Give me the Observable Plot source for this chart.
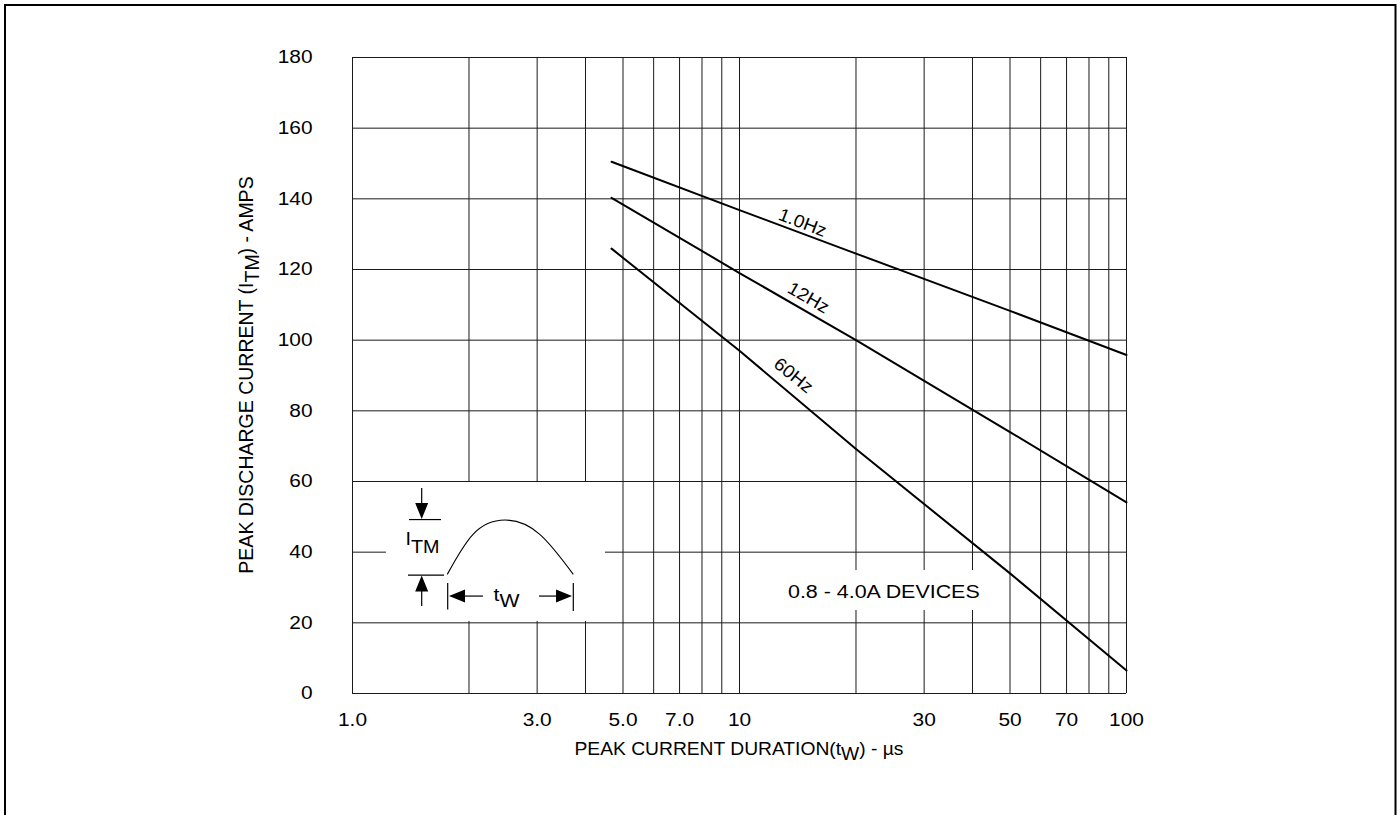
<!DOCTYPE html>
<html>
<head>
<meta charset="utf-8">
<script src="https://cdn.jsdelivr.net/npm/d3@7"></script>
<script src="https://cdn.jsdelivr.net/npm/@observablehq/plot@0.6"></script>
<style>
  html, body { margin: 0; padding: 0; background: #fff; }
  #chart { width: 1398px; height: 815px; overflow: hidden; }
</style>
</head>
<body>
<div id="chart"></div>
<script>
// ---- data ----
const duration = [4.67, 10, 20, 50, 100];                 // µs
const current1Hz = [150.5, 136.8, 124.5, 108.3, 95.8];    // A
const current12Hz = [140.3, 119.0, 100.0, 74.0, 54.1];
const current60Hz = [125.9, 97.0, 69.2, 34.0, 6.5];
const seriesNames = ["1.0Hz", "12Hz", "60Hz"];
const seriesValues = [current1Hz, current12Hz, current60Hz];

const xGrid = [1, 2, 3, 4, 5, 6, 7, 8, 9, 10, 20, 30, 40, 50, 60, 70, 80, 90, 100];
const yTicks = [0, 20, 40, 60, 80, 100, 120, 140, 160, 180];
const xTickValues = [1, 3, 5, 7, 10, 30, 50, 70, 100];
const xTickLabels = ["1.0", "3.0", "5.0", "7.0", "10", "30", "50", "70", "100"];

// label placement (data coordinates) and rotation for the curve labels
const labelX = [14.55, 15.07, 13.79];
const labelY = [133.2, 112.0, 90.0];
const labelAngle = [21, 30, 39];

const deviceText = "0.8 - 4.0A DEVICES";

// ---- build tables ----
const rows = seriesNames.flatMap((name, k) =>
  duration.map((d, i) => ({series: name, duration: d, current: seriesValues[k][i]})));
const labels = seriesNames.map((name, k) => ({text: name, x: labelX[k], y: labelY[k], r: labelAngle[k]}));

const FONT = "'Liberation Sans', Arial, Helvetica, sans-serif";
const GRID = "#1a1a1a";
const FS = 18;

const plot = Plot.plot({
  width: 1398,
  height: 815,
  marginLeft: 352,
  marginRight: 272,
  marginTop: 57,
  marginBottom: 122,
  style: {fontFamily: FONT, fontSize: FS + "px", color: "#000", background: "#fff", overflow: "hidden"},
  x: {type: "log", domain: [1, 100], axis: null},
  y: {domain: [0, 180]},
  marks: [
    Plot.ruleX(xGrid, {stroke: GRID, strokeWidth: 1}),
    Plot.ruleY(yTicks, {stroke: GRID, strokeWidth: 1}),
    // white boxes behind the inset sketch and the device note
    Plot.rect([{}], {x1: () => 1.006, x2: () => 4.505, y1: () => 20.4, y2: () => 59.7, fill: "#fff"}),
    Plot.rect([{}], {x1: () => 12.2, x2: () => 46.5, y1: () => 23.5, y2: () => 34.8, fill: "#fff"}),
    Plot.ruleX([1], {stroke: GRID, strokeWidth: 1}),
    Plot.ruleY([40], {x1: () => 1, x2: () => 1.224, stroke: GRID, strokeWidth: 1}),
    Plot.line(rows, {x: "duration", y: "current", z: "series", stroke: "#000", strokeWidth: 2}),
    Plot.text(labels, {x: "x", y: "y", text: "text", rotate: "r", fontSize: FS, fill: "#000"}),
    Plot.text([deviceText], {x: () => 23.6, y: () => 28.6, text: d => d, fontSize: FS, fill: "#000"}),
    // x tick labels
    Plot.text(xTickValues, {x: d => d, text: (d, i) => xTickLabels[i], frameAnchor: "bottom", dy: 32,
                            fontSize: FS, fill: "#000"}),
    Plot.axisY({ticks: yTicks, tickSize: 0, tickPadding: 40, label: null, fontSize: FS})
  ]
});

document.getElementById("chart").appendChild(plot);

const svg = d3.select(plot);
const sx = plot.scale("x").apply;
const sy = plot.scale("y").apply;

function stretch(el, f) {
  const L = el.getComputedTextLength();
  el.setAttribute("textLength", (L * f).toFixed(2));
  el.setAttribute("lengthAdjust", "spacingAndGlyphs");
}

// horizontal stretch of the lettering, as in the reference
plot.querySelectorAll('g[aria-label="y-axis tick label"] text').forEach(t => stretch(t, 1.16));
plot.querySelectorAll('g[aria-label="text"] text').forEach(t => {
  const s = t.textContent;
  if (s === deviceText) stretch(t, 1.19);
  else if (seriesNames.includes(s)) stretch(t, 1.06);
  else if (xTickLabels.includes(s)) stretch(t, 1.16);
});

// text with subscripts, horizontally stretched through a transform
function subText(x, y, f, size, anchor, parts) {
  const grp = svg.append("g").attr("transform", `translate(${x},${y}) scale(${f},1)`);
  const t = grp.append("text").attr("x", 0).attr("y", 0)
    .attr("text-anchor", anchor).attr("font-family", FONT)
    .attr("font-size", size).attr("fill", "#000");
  parts.forEach(([s, dy]) => t.append("tspan").attr("dy", dy).text(s));
  return grp;
}

// ---- axis titles ----
subText((sx(1) + sx(100)) / 2, 755, 1.07, FS, "middle",
  [["PEAK CURRENT DURATION(t", 0], ["W", 5], [") - µs", -5]]);

const yTitle = svg.append("text")
  .attr("transform", `translate(253,${(sy(0) + sy(180)) / 2}) rotate(-90)`)
  .attr("text-anchor", "middle")
  .attr("font-family", FONT)
  .attr("font-size", 19.5)
  .attr("fill", "#000");
yTitle.append("tspan").text("PEAK DISCHARGE CURRENT (I");
yTitle.append("tspan").attr("dy", 6).text("TM");
yTitle.append("tspan").attr("dy", -6).text(") - AMPS");

// ---- inset pulse sketch (anchored at x = 1, y = 40) ----
const ax = sx(1), ay = sy(40);
const g = svg.append("g").attr("transform", `translate(${ax},${ay})`)
  .attr("stroke", "#000").attr("stroke-width", 1.2).attr("fill", "none");
const P = (x, y) => [x - 352, y - 551.6];
function seg(x1, y1, x2, y2) {
  const a = P(x1, y1), b = P(x2, y2);
  g.append("line").attr("x1", a[0]).attr("y1", a[1]).attr("x2", b[0]).attr("y2", b[1]);
}
function tri(pts) {
  g.append("path").attr("d", "M" + pts.map(p => P(p[0], p[1]).join(",")).join("L") + "Z")
    .attr("fill", "#000").attr("stroke", "none");
}
// I_TM marker
seg(421.7, 488, 421.7, 505);
tri([[421.7, 519], [415.2, 503], [428.2, 503]]);
seg(409, 519.5, 441, 519.5);
seg(408, 575, 444, 575);
tri([[421.7, 575.5], [415.2, 591.5], [428.2, 591.5]]);
seg(421.7, 590, 421.7, 606);
// pulse
{
  const p0 = P(447.3, 574.3), c1 = P(466, 540), c2 = P(478, 520), m = P(505, 520),
        c3 = P(532, 520), c4 = P(548, 540), p1 = P(573.3, 574.3);
  g.append("path").attr("d",
    `M${p0}C${c1} ${c2} ${m}C${c3} ${c4} ${p1}`).attr("stroke-width", 1.1);
}
// t_W marker
seg(447.7, 583, 447.7, 609.5);
seg(573.3, 583, 573.3, 611);
tri([[449, 596], [465, 589.5], [465, 602.5]]);
seg(464, 596, 483, 596);
seg(539, 596, 558, 596);
tri([[572, 596], [556, 589.5], [556, 602.5]]);

subText(405.5, 545, 1.1, FS, "start", [["I", 0], ["TM", 8]]);
subText(493.5, 601, 1.18, FS, "start", [["t", 0], ["W", 6]]);

// ---- outer frame ----
svg.append("rect").attr("x", 5).attr("y", 5).attr("width", 1390.5).attr("height", 900)
  .attr("fill", "none").attr("stroke", "#000").attr("stroke-width", 2);
</script>
</body>
</html>
